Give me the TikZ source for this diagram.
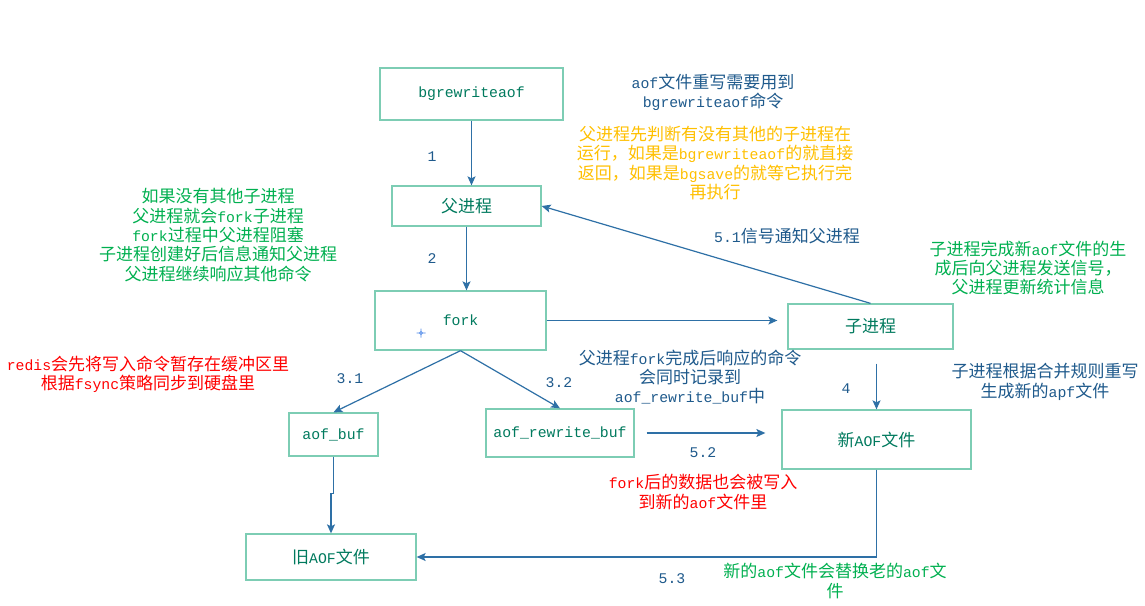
\documentclass[tikz,border=0pt]{standalone}
\usepackage{fontspec}
\usetikzlibrary{arrows.meta}
\setmainfont{Liberation Mono}[Scale=0.87]
\newfontfamily\cjk{Noto Sans CJK SC}
\newfontfamily\lat{Liberation Mono}[Scale=0.87]
\XeTeXinterchartokenstate=1
\newXeTeXintercharclass\CJKcls
\newcount\cc
\cc="4E00 \loop \XeTeXcharclass\cc=\CJKcls \advance\cc 1 \ifnum\cc<"A000 \repeat
\cc="3000 \loop \XeTeXcharclass\cc=\CJKcls \advance\cc 1 \ifnum\cc<"3040 \repeat
\cc="FF00 \loop \XeTeXcharclass\cc=\CJKcls \advance\cc 1 \ifnum\cc<"FFF0 \repeat
\XeTeXinterchartoks 0 \CJKcls={\cjk}
\XeTeXinterchartoks 4095 \CJKcls={\cjk}
\XeTeXinterchartoks \CJKcls 0={\lat}
\XeTeXinterchartoks 4095 0={\lat}
\definecolor{boxtext}{RGB}{0,122,94}
\definecolor{boxline}{RGB}{125,205,180}
\definecolor{arrowc}{RGB}{46,112,166}
\definecolor{dblue}{RGB}{31,90,140}
\definecolor{orangec}{RGB}{255,192,0}
\definecolor{greenc}{RGB}{0,176,80}
\definecolor{redc}{RGB}{255,0,0}
\definecolor{cursorc}{RGB}{74,134,232}
\begin{document}
\begin{tikzpicture}[x=1pt,y=-1pt,
  every node/.style={font=\fontsize{17}{19.3}\selectfont},
  box/.style={draw=boxline,line width=1.3pt,text=boxtext,inner sep=0pt},
  arr/.style={draw=arrowc,line width=1.2pt,-{Stealth[length=9pt,width=8pt,inset=2pt]}},
  note/.style={align=center,inner sep=0pt},
  lbl/.style={text=dblue,inner sep=0pt}]
\useasboundingbox (0,0) rectangle (1145,605);
\fill[white] (0,0) rectangle (1145,605);
% boxes
\node[box,minimum width=183,minimum height=52] (bg) at (471.5,94) {bgrewriteaof};
\node[box,minimum width=149,minimum height=40] (fp) at (466.5,206) {父进程};
\node[box,minimum width=171,minimum height=59] (fork) at (460.5,320.5) {fork};
\node[box,minimum width=165,minimum height=45] (child) at (870.5,326.5) {子进程};
\node[box,minimum width=89,minimum height=43] (ab) at (333.5,434.5) {aof\_buf};
\node[box,minimum width=148,minimum height=48] (arb) at (560,433) {aof\_rewrite\_buf};
\node[box,minimum width=189,minimum height=59] (nf) at (876.5,439.5) {新AOF文件};
\node[box,minimum width=170,minimum height=46] (old) at (331,557) {旧AOF文件};
% connectors
\draw[arr] (bg.south) -- (bg.south |- fp.north);
\draw[arr] (fp.south) -- (fp.south |- fork.north);
\draw[arr,shorten >=10pt] (fork.east) -- (fork.east -| child.west);
\draw[arr] (child.north) -- (fp.east);
\draw[arr] (fork.south) -- (ab.north);
\draw[arr] (fork.south) -- (arb.north);
\draw[arr,shorten <=12pt,shorten >=16pt] (arb.east) -- (arb.east -| nf.west);
\draw[arr,shorten <=14pt] (child.south -| nf.north) -- (nf.north);
\draw[arr] (nf.south) |- (old.east);
\draw[arr] (ab.south) -- ++(0,37) -| (old.north);
% cursor mark
\draw[cursorc,line width=0.8pt] (421,333) circle (1.5) (416.5,333) -- (419.5,333) (422.5,333) -- (425.5,333) (421,328.5) -- (421,331.5) (421,334.5) -- (421,337.5);
% labels
\node[lbl] (l1) at (432,157) {1};
\node[lbl] (l2) at (432,259) {2};
\node[lbl] (l31) at (350,379) {3.1};
\node[lbl] (l32) at (559,383) {3.2};
\node[lbl] (l4) at (846,389) {4};
\node[lbl] (l51) at (787,236) {5.1信号通知父进程};
\node[lbl] (l52) at (703,453) {5.2};
\node[lbl] (l53) at (672,579) {5.3};
% notes
\node[note,text=dblue] (n1) at (713,92) {aof文件重写需要用到\\bgrewriteaof命令};
\node[note,text=orangec] (n2) at (715,163) {父进程先判断有没有其他的子进程在\\运行，如果是bgrewriteaof的就直接\\返回，如果是bgsave的就等它执行完\\再执行};
\node[note,text=greenc] (n3) at (218,235) {如果没有其他子进程\\父进程就会fork子进程\\fork过程中父进程阻塞\\子进程创建好后信息通知父进程\\父进程继续响应其他命令};
\node[note,text=greenc] (n4) at (1028,268) {子进程完成新aof文件的生\\成后向父进程发送信号，\\父进程更新统计信息};
\node[note,text=redc] (n5) at (148,374) {redis会先将写入命令暂存在缓冲区里\\根据fsync策略同步到硬盘里};
\node[note,text=dblue] (n6) at (690,377) {父进程fork完成后响应的命令\\会同时记录到\\aof\_rewrite\_buf中};
\node[note,text=dblue] (n7) at (1045,382) {子进程根据合并规则重写\\生成新的apf文件};
\node[note,text=redc] (n8) at (703,492) {fork后的数据也会被写入\\到新的aof文件里};
\node[note,text=greenc] (n9) at (835,581) {新的aof文件会替换老的aof文\\件};
\end{tikzpicture}
\end{document}
